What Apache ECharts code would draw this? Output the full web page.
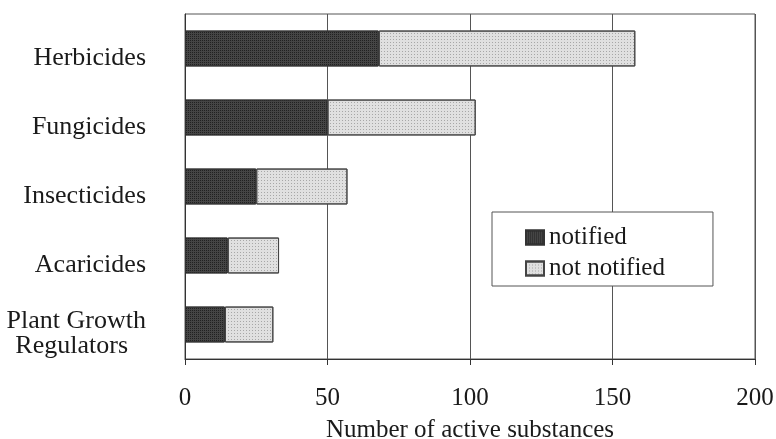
<!DOCTYPE html>
<html><head><meta charset="utf-8">
<script src="https://cdn.jsdelivr.net/npm/echarts@6/dist/echarts.min.js"></script>
<style>html,body{margin:0;padding:0;background:#fff}#c{width:776px;height:439px}</style>
</head><body><div id="c"></div>
<script>
const categories = ['Herbicides', 'Fungicides', 'Insecticides', 'Acaricides', 'Plant Growth\nRegulators'];
const notified = [68, 50, 25, 15, 14];
const notNotified = [90, 52, 32, 18, 17];
const xTicks = [0, 50, 100, 150, 200];

const font = 'Liberation Serif';
const ink = '#1a1a1a';
const chart = echarts.init(document.getElementById('c'));
chart.setOption({
  animation: false,
  textStyle: { fontFamily: font },
  grid: { left: 185, right: 21, top: 14, bottom: 80, show: true, borderColor: '#555', borderWidth: 1, containLabel: false, outerBoundsMode: 'none' },
  legend: {
    orient: 'vertical', left: 492, top: 212,
    padding: [13, 48, 5, 33],
    backgroundColor: '#fff', borderColor: '#555', borderWidth: 1,
    icon: 'rect',
    itemWidth: 18, itemHeight: 14, itemGap: 6,
    textStyle: { fontFamily: font, fontSize: 25, color: ink, lineHeight: 25 },
    data: ['notified', 'not notified']
  },
  xAxis: {
    type: 'value', min: xTicks[0], max: xTicks[xTicks.length - 1], interval: 50,
    name: 'Number of active substances', nameLocation: 'middle', nameGap: 59,
    nameTextStyle: { fontFamily: font, fontSize: 25, color: ink, verticalAlign: 'top' },
    axisLine: { show: true, lineStyle: { color: '#333' } },
    axisTick: { show: true, inside: false, length: 6, lineStyle: { color: '#333' } },
    axisLabel: { fontFamily: font, fontSize: 25, color: ink, margin: 27 },
    splitLine: { show: true, lineStyle: { color: '#555', width: 1 } }
  },
  yAxis: {
    type: 'category', data: categories, inverse: true,
    axisLine: { show: true, lineStyle: { color: '#333' } },
    axisTick: { show: false },
    axisLabel: {
      fontFamily: font, fontSize: 26, color: ink, margin: 39, lineHeight: 25,
      padding: [19, 0, 0, 0],
      formatter: function (v) {
        if (v.indexOf('\n') >= 0) {
          const p = v.split('\n');
          return '{a|' + p[0] + '}\n{b|' + p[1] + '}';
        }
        return v;
      },
      rich: {
        a: { fontFamily: font, fontSize: 26, color: ink, lineHeight: 25 },
        b: { fontFamily: font, fontSize: 26, color: ink, lineHeight: 25, padding: [0, 18, 0, 0] }
      }
    }
  },
  series: [
    {
      name: 'notified', type: 'bar', stack: 's', data: notified, barWidth: '52%',
      itemStyle: {
        color: '#454545', borderColor: '#333', borderWidth: 1,
        decal: { symbol: 'rect', symbolSize: 1, color: 'rgba(10,10,10,0.6)', dashArrayX: [1, 1], dashArrayY: [1, 1], rotation: 0 }
      }
    },
    {
      name: 'not notified', type: 'bar', stack: 's', data: notNotified, barWidth: '52%',
      itemStyle: {
        color: '#e0e0e0', borderColor: '#444', borderWidth: 1,
        decal: { symbol: 'rect', symbolSize: 1, color: 'rgba(110,110,110,0.5)', dashArrayX: [1, 2], dashArrayY: [1, 2], rotation: 0 }
      }
    }
  ]
});
</script></body></html>
